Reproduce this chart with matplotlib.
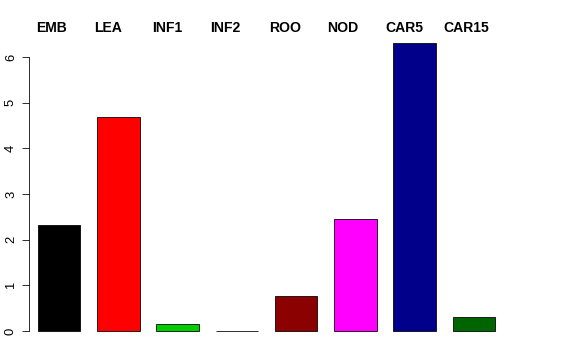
import numpy as np
import matplotlib.pyplot as plt

plt.rcParams['font.family'] = ['Liberation Sans', 'DejaVu Sans']

categories = ["EMB", "LEA", "INF1", "INF2", "ROO", "NOD", "CAR5", "CAR15"]
values = [2.32, 4.69, 0.15, 0.01, 0.77, 2.45, 6.31, 0.31]
colors = ["black", "red", "#00CD00", "#BEBEBE", "#8B0000", "magenta", "#00008B", "#006400"]
yticks = [0, 1, 2, 3, 4, 5, 6]

W, H = 576, 360
fig = plt.figure(figsize=(W / 72, H / 72), dpi=72)
# plot region in pixels (left, top, right, bottom)
left, top, right, bottom = 29, 31.4, 513, 342.4
ax = fig.add_axes([left / W, 1 - bottom / H, (right - left) / W, (bottom - top) / H])

x = 0.9 + 1.4 * np.arange(len(values))
ax.bar(x, values, width=1.0, color=colors, edgecolor="black", linewidth=0.8)
ax.set_xlim(0.187, 11.625)
ax.set_ylim(-0.25, 6.56)

for s in ["top", "right", "bottom"]:
    ax.spines[s].set_visible(False)
ax.spines["left"].set_bounds(0, 6)
ax.spines["left"].set_linewidth(0.8)
ax.set_xticks([])
ax.set_yticks(yticks)
ax.set_yticklabels([str(t) for t in yticks], rotation=90, va="center", fontsize=13)
ax.tick_params(axis="y", length=7, width=0.8, pad=5)

# category labels laid out in a row above the bars
for i, c in enumerate(categories):
    fig.text((36 + 58.2 * i) / W, 1 - 28.5 / H, c, ha="left", va="center",
             fontsize=14, fontweight="bold")

fig.savefig("out.png", dpi=72)
